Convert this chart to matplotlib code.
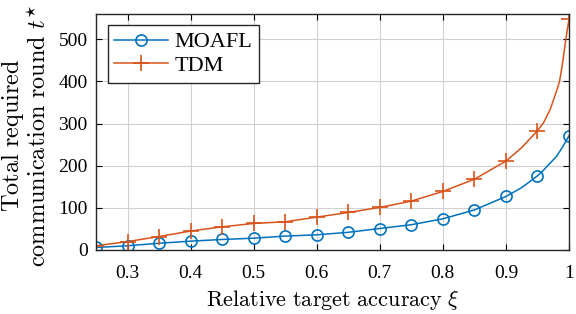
import numpy as np
import matplotlib.pyplot as plt

plt.rcParams['font.family'] = ['Liberation Serif', 'DejaVu Serif']
plt.rcParams['mathtext.fontset'] = 'cm'

# marker positions
xi = [0.25, 0.30, 0.35, 0.40, 0.45, 0.50, 0.55, 0.60, 0.65,
      0.70, 0.75, 0.80, 0.85, 0.90, 0.95, 1.00]
moafl = [6, 10, 16, 21, 25, 28, 33, 36, 42, 51, 60, 74, 95, 127, 176, 271]
tdm = [10, 20, 32, 45, 55, 63, 67, 78, 89, 101, 116, 139, 168, 211, 283, 548]

# extra curve points read near the right end
xi_line = [0.25, 0.30, 0.35, 0.40, 0.45, 0.50, 0.55, 0.60, 0.65, 0.70, 0.75,
           0.80, 0.85, 0.90, 0.925, 0.95, 0.96, 0.97, 0.98, 0.985, 0.99, 0.995, 1.00]
moafl_line = [6, 10, 16, 21, 25, 28, 33, 36, 42, 51, 60,
              74, 95, 127, 148, 176, 190, 206, 222, 233, 245, 258, 271]
tdm_line = [10, 20, 32, 45, 55, 63, 67, 78, 89, 101, 116,
            139, 168, 211, 243, 283, 303, 333, 376, 400, 445, 500, 548]

blue = '#0072BD'
orange = '#D95319'

fig = plt.figure(figsize=(5.76, 3.14), dpi=100)
ax = fig.add_axes([96/576, 1-250/314, (569-96)/576, (250-14)/314])

ax.plot(xi_line, moafl_line, color=blue, lw=1.1)
ax.plot(xi_line, tdm_line, color=orange, lw=1.1)
ax.plot(xi, moafl, 'o', color=blue, mfc='none', ms=8, mew=1.2)
ax.plot(xi, tdm, '+', color=orange, ms=11, mew=1.2)
# legend handles
h1, = ax.plot([], [], '-o', color=blue, mfc='none', ms=8, mew=1.2, lw=1.1, label='MOAFL')
h2, = ax.plot([], [], '-+', color=orange, ms=11, mew=1.2, lw=1.1, label='TDM')

ax.set_xlim(0.25, 1)
ax.set_ylim(0, 560)
ax.set_xticks([0.3, 0.4, 0.5, 0.6, 0.7, 0.8, 0.9, 1.0])
ax.set_xticklabels(['0.3', '0.4', '0.5', '0.6', '0.7', '0.8', '0.9', '1'])
ax.set_yticks([0, 100, 200, 300, 400, 500])
ax.grid(True, color='#d0d0d0', lw=0.8)
ax.tick_params(direction='in', top=True, right=True, labelsize=14, length=4)
ax.tick_params(axis='x', pad=11)
ax.tick_params(axis='y', pad=6)
for s in ax.spines.values():
    s.set_linewidth(1.0)
    s.set_color('#262626')

ax.set_xlabel(r'$\mathrm{Relative\ target\ accuracy}\ \xi$', fontsize=16, labelpad=4)
ax.set_ylabel(r'$\mathrm{Total\ required}$' + '\n' +
              r'$\mathrm{communication\ round}\ t^{\star}$',
              fontsize=17.5, linespacing=1.05)
ax.yaxis.set_label_coords(-0.095, 0.485)

leg = ax.legend(handles=[h1, h2], loc='upper left', fontsize=16, fancybox=False,
                edgecolor='#262626', framealpha=1, borderpad=0.3, handlelength=2.4,
                handletextpad=0.3, labelspacing=0.15, borderaxespad=0,
                bbox_to_anchor=(0.025, 0.953))
leg.get_frame().set_linewidth(1.0)

fig.savefig('out.png', dpi=100)
